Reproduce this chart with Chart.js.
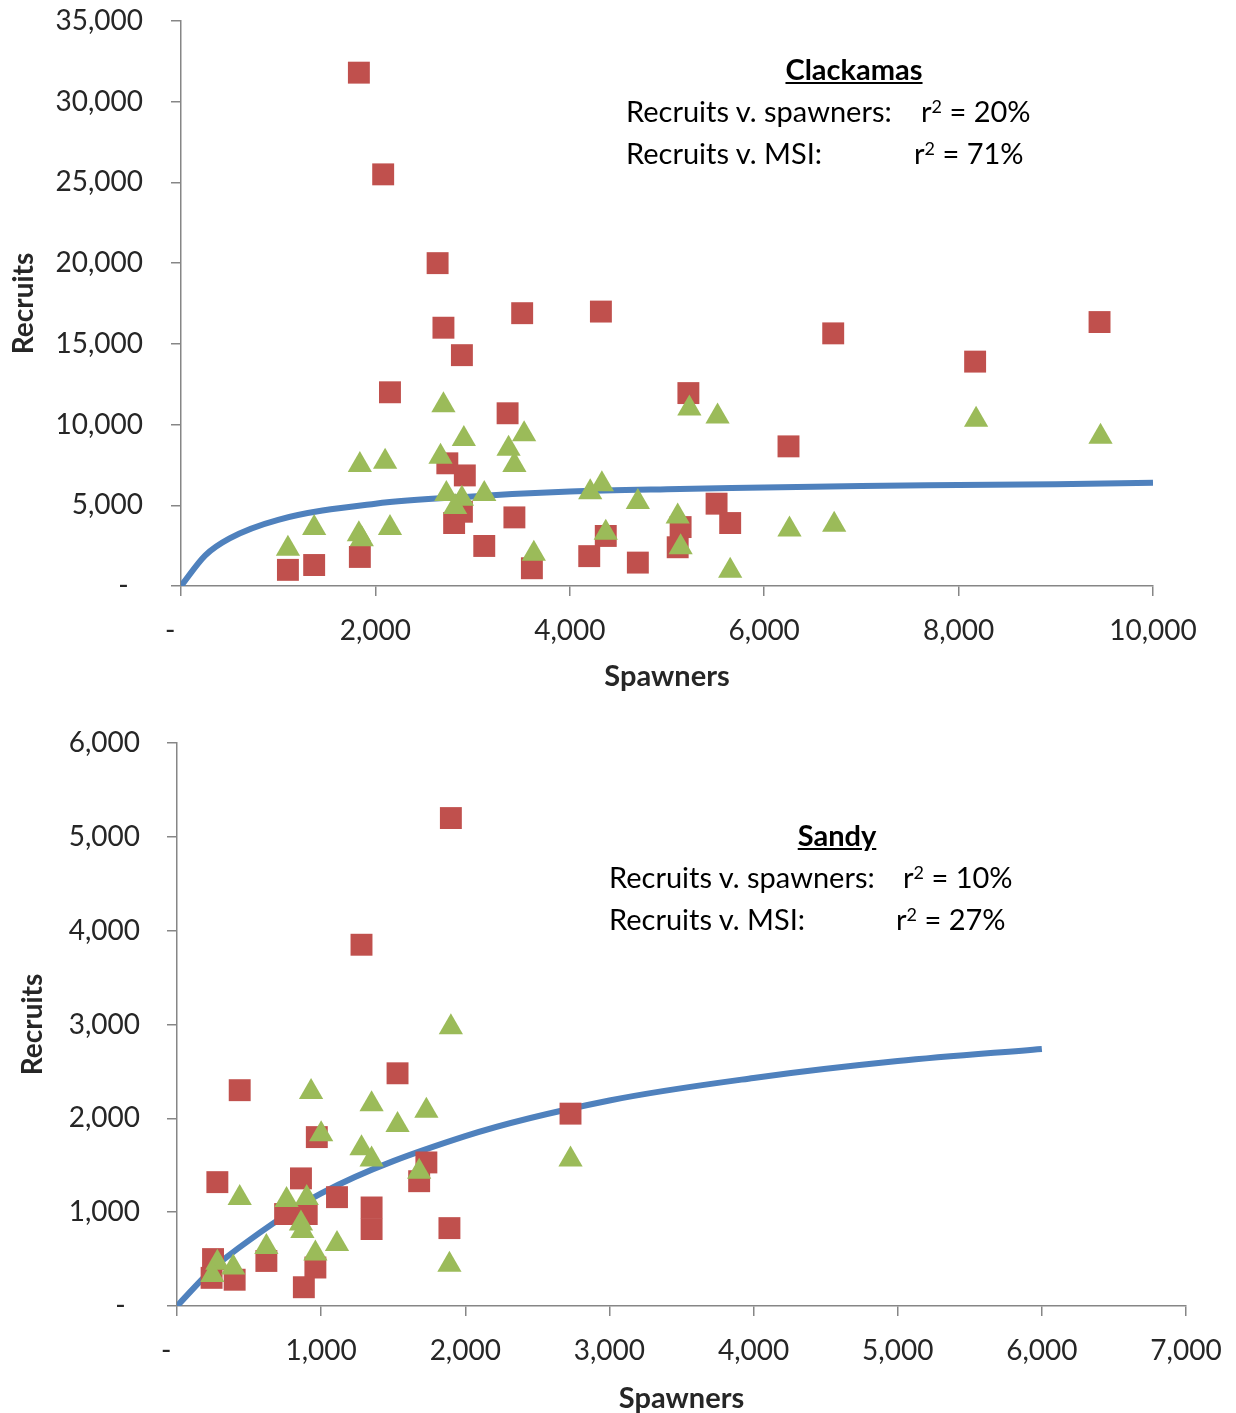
<!DOCTYPE html>
<html lang="en">
<head>
<meta charset="UTF-8">
<title>Recruits v. spawners</title>
<script src="https://cdn.jsdelivr.net/npm/chart.js"></script>
<style>
    body { margin: 0; background: #fff; font-family: 'Lato', sans-serif; }
    .wrap { position: relative; width: 1236px; height: 1413px; }
    canvas { position: absolute; left: 0; }
    #topChart { top: 0; }
    #bottomChart { top: 700px; }
    .note { position: absolute; font-size: 29px; color: #000; white-space: nowrap; line-height: 1; }
    .head { font-weight: bold; text-decoration: underline; transform: translateX(-50%); }
    sup { font-size: 0.62em; vertical-align: 0.5em; line-height: 0; }
</style>
</head>
<body>
<div class="wrap">
    <canvas id="topChart" width="1236" height="700"></canvas>
    <canvas id="bottomChart" width="1236" height="713"></canvas>

    <div class="note head" style="left:854px; top:54px;">Clackamas</div>
    <div class="note" style="left:626px; top:96px;">Recruits v. spawners:</div>
    <div class="note" style="left:921px; top:96px;">r<sup>2</sup> = 20%</div>
    <div class="note" style="left:626px; top:138px;">Recruits v. MSI:</div>
    <div class="note" style="left:914px; top:138px;">r<sup>2</sup> = 71%</div>

    <div class="note head" style="left:837px; top:820px;">Sandy</div>
    <div class="note" style="left:609px; top:862px;">Recruits v. spawners:</div>
    <div class="note" style="left:903px; top:862px;">r<sup>2</sup> = 10%</div>
    <div class="note" style="left:609px; top:904px;">Recruits v. MSI:</div>
    <div class="note" style="left:896px; top:904px;">r<sup>2</sup> = 27%</div>
</div>

<script>
    // Clackamas - recruits vs spawners (squares) and vs MSI (triangles)
    const clackSpawnersSq = [1830, 2080, 2640, 2700, 2890, 3510, 4320, 2150, 3360, 5220, 6710, 8170, 9450, 6250, 2740, 2920, 2810, 2890, 3430, 3120, 1840, 1370, 1100, 3610, 5510, 5650, 4370, 4200, 4700, 5140, 5110];
    const clackRecruitsSq = [31800, 25500, 20000, 16000, 14300, 16900, 17000, 12000, 10700, 11950, 15650, 13900, 16350, 8650, 7600, 6850, 3900, 4600, 4250, 2480, 1800, 1300, 1000, 1100, 5100, 3900, 3100, 1850, 1450, 3650, 2400];
    const clackSpawnersTri = [5230, 5520, 8180, 9460, 4330, 4210, 4700, 5110, 4370, 5140, 6260, 6720, 5650, 2700, 2910, 3530, 3370, 3430, 1840, 2100, 2670, 2730, 2890, 2820, 3120, 1370, 1830, 1860, 2150, 1100, 3630];
    const clackRecruitsTri = [11000, 10500, 10300, 9250, 6300, 5800, 5200, 4300, 3300, 2400, 3500, 3800, 950, 11200, 9100, 9400, 8500, 7500, 7500, 7700, 8000, 5700, 5400, 4900, 5700, 3600, 3200, 2900, 3600, 2300, 2000];
    const clackFitX = [0, 250, 500, 1000, 2000, 3000, 4000, 5000, 6000, 7000, 8000, 9000, 10000];
    const clackFitY = [0, 1900, 2950, 4100, 5100, 5550, 5850, 6000, 6100, 6200, 6250, 6300, 6400];

    // Sandy
    const sandySpawnersSq = [1900, 1280, 2730, 435, 1530, 970, 1730, 1680, 280, 860, 1110, 1350, 1350, 750, 900, 1890, 250, 240, 400, 620, 960, 880];
    const sandyRecruitsSq = [5200, 3850, 2050, 2300, 2480, 1800, 1530, 1330, 1320, 1360, 1160, 1050, 820, 980, 980, 830, 500, 300, 280, 480, 410, 200];
    const sandySpawnersTri = [1900, 2730, 930, 1350, 1730, 1530, 1000, 1280, 1350, 1680, 435, 760, 900, 860, 870, 1110, 620, 960, 280, 390, 245, 1890];
    const sandyRecruitsTri = [2970, 1560, 2280, 2150, 2080, 1930, 1830, 1680, 1560, 1430, 1150, 1130, 1150, 880, 800, 660, 630, 560, 460, 410, 330, 440];
    const sandyFitX = [0, 250, 500, 1000, 2000, 3000, 4000, 5000, 6000];
    const sandyFitY = [0, 400, 700, 1200, 1810, 2190, 2430, 2610, 2740];

    const RED = '#C0504D';
    const GREEN = '#9BBB59';
    const BLUE = '#4F81BD';
    const AXIS = '#868686';
    const TEXT = '#262626';
    const FONT = 'Lato';

    function pts(xs, ys) {
        return xs.map((x, i) => ({ x: x, y: ys[i] }));
    }

    // Excel accounting style: zero shows as a dash
    function fmtY(v) {
        return v === 0 ? '-  ' : v.toLocaleString('en-US');
    }

    function fmtX(v) {
        return v === 0 ? '-   ' : v.toLocaleString('en-US');
    }

    function makeChart(id, cfg) {
        const ctx = document.getElementById(id).getContext('2d');
        return new Chart(ctx, {
            type: 'scatter',
            data: {
                datasets: [
                    {
                        label: 'Recruits v. MSI',
                        data: pts(cfg.triX, cfg.triY),
                        pointStyle: 'triangle',
                        pointRadius: 14,
                        backgroundColor: GREEN,
                        borderWidth: 0,
                        order: 1
                    },
                    {
                        label: 'Recruits v. spawners',
                        data: pts(cfg.sqX, cfg.sqY),
                        pointStyle: 'rect',
                        pointRadius: 15.5,
                        backgroundColor: RED,
                        borderWidth: 0,
                        order: 2
                    },
                    {
                        label: 'Fit',
                        type: 'line',
                        data: pts(cfg.fitX, cfg.fitY),
                        borderColor: BLUE,
                        borderWidth: 6,
                        pointRadius: 0,
                        cubicInterpolationMode: 'monotone',
                        fill: false,
                        order: 3
                    }
                ]
            },
            options: {
                responsive: false,
                animation: false,
                layout: { padding: { top: cfg.padTop, right: cfg.padRight, left: 0, bottom: 0 } },
                plugins: { legend: { display: false }, tooltip: { enabled: false } },
                scales: {
                    x: {
                        type: 'linear',
                        min: 0,
                        max: cfg.xMax,
                        afterFit: s => {
                            s.height = cfg.xHeight;
                            s.paddingLeft = 0;
                            s.paddingRight = 0;
                        },
                        ticks: {
                            stepSize: cfg.xStep,
                            callback: fmtX,
                            font: { family: FONT, size: 28 },
                            color: TEXT,
                            padding: 18,
                            maxRotation: 0
                        },
                        grid: { drawOnChartArea: false, drawTicks: true, tickLength: 10, color: AXIS, lineWidth: 1.5 },
                        border: { color: AXIS, width: 1.5 },
                        title: {
                            display: true,
                            text: 'Spawners',
                            font: { family: FONT, size: 29, weight: 'bold' },
                            color: TEXT,
                            padding: { top: 0, bottom: cfg.xTitlePad }
                        }
                    },
                    y: {
                        type: 'linear',
                        min: 0,
                        max: cfg.yMax,
                        afterFit: s => {
                            s.width = cfg.yWidth;
                            s.paddingTop = 0;
                            s.paddingBottom = 0;
                        },
                        ticks: {
                            stepSize: cfg.yStep,
                            callback: fmtY,
                            font: { family: FONT, size: 28 },
                            color: TEXT,
                            padding: cfg.yTickPad
                        },
                        grid: { drawOnChartArea: false, drawTicks: true, tickLength: 10, color: AXIS, lineWidth: 1.5 },
                        border: { color: AXIS, width: 1.5 },
                        title: {
                            display: true,
                            text: 'Recruits',
                            font: { family: FONT, size: 28, weight: 'bold' },
                            color: TEXT,
                            padding: { top: cfg.yTitlePad, bottom: 0 }
                        }
                    }
                }
            }
        });
    }

    makeChart('topChart', {
        sqX: clackSpawnersSq, sqY: clackRecruitsSq,
        triX: clackSpawnersTri, triY: clackRecruitsTri,
        fitX: clackFitX, fitY: clackFitY,
        xMax: 10000, xStep: 2000, yMax: 35000, yStep: 5000,
        padTop: 21, padRight: 83, xHeight: 114, yWidth: 181,
        yTickPad: 28, xTitlePad: 6, yTitlePad: 7
    });

    makeChart('bottomChart', {
        sqX: sandySpawnersSq, sqY: sandyRecruitsSq,
        triX: sandySpawnersTri, triY: sandyRecruitsTri,
        fitX: sandyFitX, fitY: sandyFitY,
        xMax: 7000, xStep: 1000, yMax: 6000, yStep: 1000,
        padTop: 43, padRight: 50, xHeight: 107, yWidth: 177,
        yTickPad: 27, xTitlePad: -3, yTitlePad: 16
    });
</script>
</body>
</html>
